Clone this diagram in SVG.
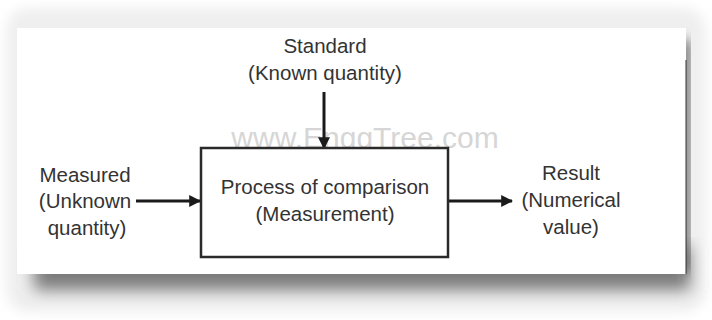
<svg xmlns="http://www.w3.org/2000/svg" width="712" height="320" viewBox="0 0 712 320">
  <defs>
    <filter id="soft" x="-10%" y="-10%" width="120%" height="120%">
      <feGaussianBlur stdDeviation="6"/>
    </filter>
    <filter id="shadow" x="-10%" y="-20%" width="120%" height="160%">
      <feGaussianBlur stdDeviation="8"/>
    </filter>
    <marker id="arrow" viewBox="0 0 10 10" refX="9" refY="5" markerWidth="4" markerHeight="4" orient="auto" markerUnits="strokeWidth">
      <path d="M0,0 L10,5 L0,10 z" fill="#1a1a1a"/>
    </marker>
    <style>
      .lbl { font-family: "Liberation Sans", Arial, sans-serif; font-size: 20.5px; fill: #333; text-anchor: middle; }
      .wm { font-family: "Liberation Sans", Arial, sans-serif; font-size: 30px; fill: #d6d6d6; text-anchor: middle; }
      .conn { stroke: #1a1a1a; stroke-width: 3; fill: none; marker-end: url(#arrow); }
      .box { fill: #ffffff; stroke: #2a2a2a; stroke-width: 2.5; }
    </style>
  </defs>

  <!-- page backdrop -->
  <rect x="0" y="0" width="712" height="320" fill="#ffffff"/>
  <rect x="6" y="8" width="700" height="304" rx="22" fill="#efefef" filter="url(#soft)"/>

  <!-- drop shadow under the sheet -->
  <rect x="34" y="246" width="656" height="44" fill="#7a7a7a" filter="url(#shadow)"/>
  <rect x="681" y="40" width="9" height="232" fill="#5a5a5a" filter="url(#soft)"/>

  <!-- sheet -->
  <rect x="17" y="28" width="669" height="246" fill="#ffffff"/>
  <line x1="686" y1="60" x2="686" y2="274" stroke="#333" stroke-width="1"/>

  <!-- watermark -->
  <text class="wm" x="365" y="148">www.EnggTree.com</text>

  <!-- connectors -->
  <g id="connectors">
    <line class="conn" x1="324" y1="92" x2="324" y2="148"/>
    <line class="conn" x1="136" y1="201" x2="200" y2="201"/>
    <line class="conn" x1="449" y1="201" x2="512" y2="201"/>
  </g>

  <g id="standard">
    <text class="lbl" x="325" y="53">Standard</text>
    <text class="lbl" x="325" y="80">(Known quantity)</text>
  </g>

  <g id="process">
    <rect class="box" x="201" y="148" width="247" height="109"/>
    <text class="lbl" x="325" y="194">Process of comparison</text>
    <text class="lbl" x="325" y="221">(Measurement)</text>
  </g>

  <g id="measured">
    <text class="lbl" x="85" y="182">Measured</text>
    <text class="lbl" x="85" y="208">(Unknown</text>
    <text class="lbl" x="87" y="235">quantity)</text>
  </g>

  <g id="result">
    <text class="lbl" x="571" y="180">Result</text>
    <text class="lbl" x="571" y="207">(Numerical</text>
    <text class="lbl" x="571" y="234">value)</text>
  </g>
</svg>
